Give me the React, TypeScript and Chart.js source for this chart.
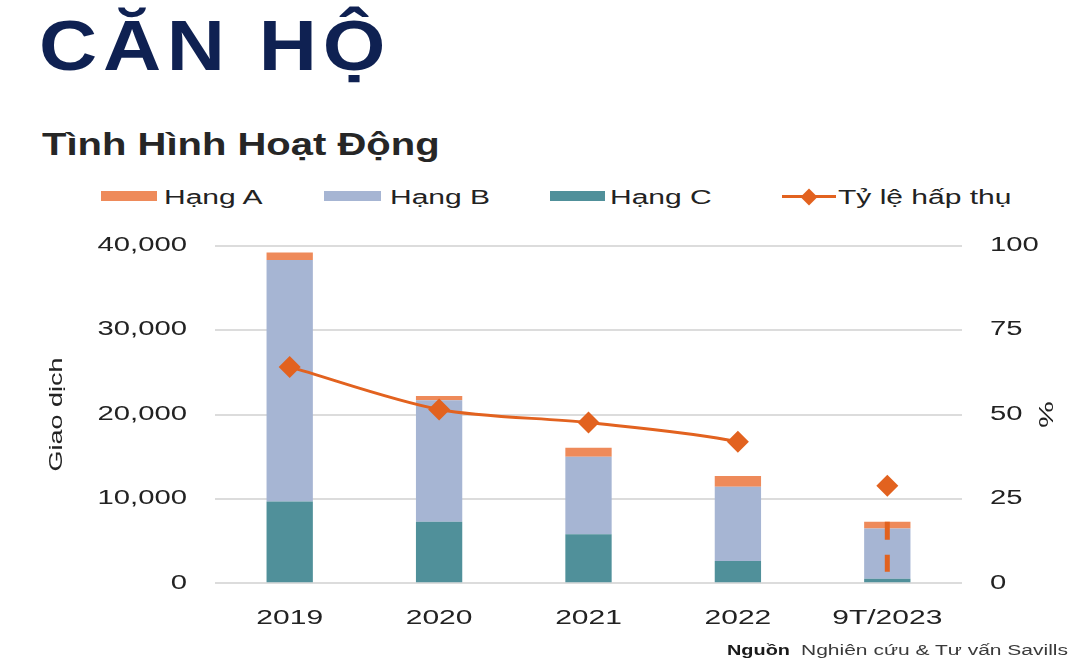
import React, { useEffect, useRef } from 'react';
import { Chart, registerables } from 'chart.js';

Chart.register(...registerables);

// ---- data ----
const categories = ['2019', '2020', '2021', '2022', '9T/2023'];
const hangA = [900, 500, 1070, 1250, 800];
const hangB = [28600, 14400, 9200, 8800, 5950];
const hangC = [9700, 7300, 5800, 2650, 550];
const absorption = [64.1, 51.5, 47.6, 41.9, 28.9];
const rangeCategory = '9T/2023';
const rangeValues = [18.2, 3.4];
const legendLabels = ['Hạng A', 'Hạng B', 'Hạng C', 'Tỷ lệ hấp thụ'];
const leftAxisTitle = 'Giao dịch';
const rightAxisTitle = '%';
const titleText = 'CĂN HỘ';
const subtitleText = 'Tình Hình Hoạt Động';
const sourceLabel = 'Nguồn';
const sourceText = 'Nghiên cứu & Tư vấn Savills';

// ---- styles ----
const FONT = "'Liberation Sans', Arial, Helvetica, sans-serif";
const SX = 1.5;
const COLOR_A = '#EE8A5A';
const COLOR_B = '#A6B5D3';
const COLOR_C = '#50909A';
const COLOR_LINE = '#E2621F';
const TEXT = '#222222';

const stretchPlugin = {
  id: 'stretchText',
  beforeInit(chart: any) {
    const ctx = chart.ctx;
    const orig = ctx.fillText;
    ctx.fillText = function (text: string, x: number, y: number) {
      this.save();
      this.translate(x, y);
      this.scale(SX, 1);
      orig.call(this, text, 0, 0);
      this.restore();
    };
  },
};

const stretched = (sx: number): React.CSSProperties => ({
  display: 'inline-block',
  transform: `scaleX(${sx})`,
  transformOrigin: 'left center',
  whiteSpace: 'nowrap',
});

export default function App() {
  const ref = useRef<HTMLCanvasElement | null>(null);

  useEffect(() => {
    if (!ref.current) return;
    const chart = new Chart(ref.current, {
      type: 'bar',
      plugins: [stretchPlugin],
      data: {
        labels: categories,
        datasets: [
          {
            type: 'line',
            label: legendLabels[3],
            data: absorption,
            yAxisID: 'y1',
            borderColor: COLOR_LINE,
            backgroundColor: COLOR_LINE,
            borderWidth: 3,
            pointStyle: 'rectRot',
            pointRadius: 11,
            pointBorderWidth: 0,
            pointBackgroundColor: COLOR_LINE,
            tension: 0.3,
            order: 0,
            segment: {
              borderColor: (c: any) => (c.p1DataIndex === absorption.length - 1 ? 'rgba(0,0,0,0)' : COLOR_LINE),
            },
          } as any,
          {
            type: 'line',
            label: 'range',
            data: rangeValues.map((v) => ({ x: rangeCategory, y: v })),
            yAxisID: 'y1',
            borderColor: COLOR_LINE,
            borderWidth: 5,
            borderDash: [18, 15],
            pointRadius: 0,
            order: 0,
          } as any,
          { label: legendLabels[2], data: hangC, backgroundColor: COLOR_C, stack: 's', order: 1, yAxisID: 'y' },
          { label: legendLabels[1], data: hangB, backgroundColor: COLOR_B, stack: 's', order: 1, yAxisID: 'y' },
          { label: legendLabels[0], data: hangA, backgroundColor: COLOR_A, stack: 's', order: 1, yAxisID: 'y' },
        ],
      },
      options: {
        animation: false,
        responsive: false,
        maintainAspectRatio: false,
        barPercentage: 0.31,
        categoryPercentage: 1.0,
        layout: { padding: { top: 20.7, left: 0, right: 0, bottom: 0 } },
        plugins: { legend: { display: false }, tooltip: { enabled: false } },
        scales: {
          x: {
            stacked: true,
            grid: { display: false },
            border: { display: false },
            ticks: { font: { family: FONT, size: 20 }, color: TEXT, padding: 15 },
            afterFit: (s: any) => {
              s.height = 61.7;
              s.paddingLeft = 0;
              s.paddingRight = 0;
            },
          },
          y: {
            stacked: true,
            min: 0,
            max: 40000,
            ticks: {
              stepSize: 10000,
              padding: 28,
              color: TEXT,
              font: { family: FONT, size: 19.5 },
              callback: (v: any) => Number(v).toLocaleString('en-US'),
            },
            grid: { color: '#dcdcdc', lineWidth: 2, drawTicks: false },
            border: { display: false },
            title: {
              display: true,
              text: leftAxisTitle,
              color: TEXT,
              font: { family: FONT, size: 18 },
              padding: { top: 46, bottom: 0 },
            },
            afterFit: (s: any) => {
              s.width = 215;
              s.paddingTop = 0;
              s.paddingBottom = 0;
            },
          },
          y1: {
            position: 'right',
            min: 0,
            max: 100,
            ticks: { stepSize: 25, padding: 28, color: TEXT, font: { family: FONT, size: 19.5 } },
            grid: { display: false, drawTicks: false },
            border: { display: false },
            title: {
              display: true,
              text: rightAxisTitle,
              color: TEXT,
              font: { family: FONT, size: 20 },
              padding: { top: 28, bottom: 0 },
            },
            afterFit: (s: any) => {
              s.width = 123;
              s.paddingTop = 0;
              s.paddingBottom = 0;
            },
          },
        },
      } as any,
    });
    return () => chart.destroy();
  }, []);

  const legendText: React.CSSProperties = {
    position: 'absolute',
    top: 187,
    fontSize: 20,
    lineHeight: '20px',
    color: TEXT,
    fontFamily: FONT,
  };
  const swatch = (left: number, width: number, color: string): React.CSSProperties => ({
    position: 'absolute',
    left,
    top: 191,
    width,
    height: 10,
    background: color,
  });

  return (
    <div
      style={{
        position: 'fixed',
        left: 0,
        top: 0,
        width: 1085,
        height: 669,
        background: '#ffffff',
        fontFamily: FONT,
        overflow: 'hidden',
      }}
    >
      <div
        style={{
          position: 'absolute',
          left: 39,
          top: 10.7,
          fontSize: 70,
          lineHeight: '70px',
          fontWeight: 'bold',
          letterSpacing: 5,
          color: '#0f2152',
        }}
      >
        <span style={stretched(1.15)}>{titleText}</span>
      </div>
      <div
        style={{
          position: 'absolute',
          left: 42,
          top: 128.8,
          fontSize: 31,
          lineHeight: '31px',
          fontWeight: 'bold',
          color: '#262626',
        }}
      >
        <span style={stretched(1.29)}>{subtitleText}</span>
      </div>

      <div style={swatch(101, 56, COLOR_A)} />
      <div style={{ ...legendText, left: 164 }}>
        <span style={stretched(SX)}>{legendLabels[0]}</span>
      </div>
      <div style={swatch(324, 57, COLOR_B)} />
      <div style={{ ...legendText, left: 390 }}>
        <span style={stretched(SX)}>{legendLabels[1]}</span>
      </div>
      <div style={swatch(550, 55, COLOR_C)} />
      <div style={{ ...legendText, left: 610 }}>
        <span style={stretched(SX)}>{legendLabels[2]}</span>
      </div>
      <div style={{ position: 'absolute', left: 782, top: 195, width: 54, height: 3, background: COLOR_LINE }} />
      <div
        style={{
          position: 'absolute',
          left: 803,
          top: 190.5,
          width: 12,
          height: 12,
          background: COLOR_LINE,
          transform: 'rotate(45deg)',
        }}
      />
      <div style={{ ...legendText, left: 838 }}>
        <span style={stretched(SX)}>{legendLabels[3]}</span>
      </div>

      <canvas
        ref={ref}
        width={1085}
        height={420}
        style={{ position: 'absolute', left: 0, top: 225, width: 1085, height: 420 }}
      />

      <div
        style={{
          position: 'absolute',
          left: 727,
          top: 643,
          fontSize: 14,
          lineHeight: '14px',
          fontWeight: 'bold',
          color: '#1a1a1a',
        }}
      >
        <span style={stretched(1.42)}>{sourceLabel}</span>
      </div>
      <div
        style={{
          position: 'absolute',
          left: 801,
          top: 643,
          fontSize: 14,
          lineHeight: '14px',
          color: '#3a3a3a',
        }}
      >
        <span style={stretched(1.5)}>{sourceText}</span>
      </div>
    </div>
  );
}
